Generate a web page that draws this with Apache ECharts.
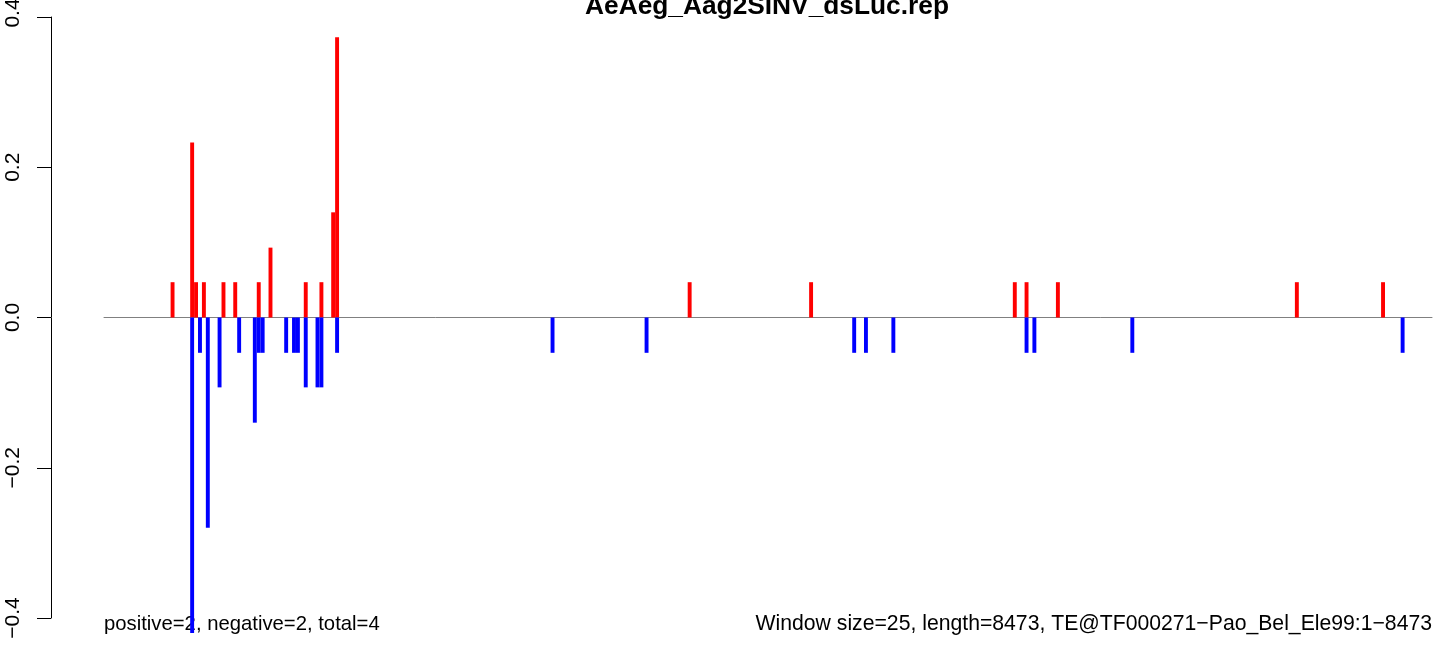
<!DOCTYPE html>
<html>
<head>
<meta charset="utf-8">
<script src="https://cdn.jsdelivr.net/npm/echarts@6/dist/echarts.min.js"></script>
<style>
html,body{margin:0;padding:0;background:#fff;}
#chart{width:1444px;height:646px;}
</style>
</head>
<body>
<div id="chart"></div>
<script>
// ---- data ----
const titleText = "AeAeg_Aag2SINV_dsLuc.rep";
const windowCount = 339; // 8473 / 25 windows
const posIndex = [17, 22, 23, 25, 30, 33, 39, 42, 51, 55, 58, 59, 149, 180, 232, 235, 243, 304, 326];
const posValue = [0.047, 0.233, 0.047, 0.047, 0.047, 0.047, 0.047, 0.093, 0.047, 0.047, 0.140, 0.373, 0.047, 0.047, 0.047, 0.047, 0.047, 0.047, 0.047];
const negIndex = [22, 24, 26, 29, 34, 38, 39, 40, 46, 48, 49, 51, 54, 55, 59, 114, 138, 191, 194, 201, 235, 237, 262, 331];
const negValue = [-0.420, -0.047, -0.280, -0.093, -0.047, -0.140, -0.047, -0.047, -0.047, -0.047, -0.047, -0.093, -0.093, -0.093, -0.047, -0.047, -0.047, -0.047, -0.047, -0.047, -0.047, -0.047, -0.047, -0.047];
const yTicks = [-0.4, -0.2, 0.0, 0.2, 0.4];
const leftNote = "positive=2, negative=2, total=4";
const rightNote = "Window size=25, length=8473, TE@TF000271\u2212Pao_Bel_Ele99:1\u22128473";

// ---- build library inputs ----
const categories = [];
for (let i = 0; i < windowCount; i++) categories.push(String(i));
const posData = categories.map(() => '-');
posIndex.forEach((k, j) => { posData[k] = posValue[j]; });
const negData = categories.map(() => '-');
negIndex.forEach((k, j) => { negData[k] = negValue[j]; });

const FONT = '"Liberation Sans", Arial, Helvetica, sans-serif';
const yMax = yTicks[yTicks.length - 1];
const chart = echarts.init(document.getElementById('chart'), null, {renderer: 'canvas'});
chart.setOption({
  animation: false,
  backgroundColor: '#ffffff',
  title: {
    text: titleText,
    left: 767,
    textAlign: 'center',
    top: -6,
    padding: 0,
    textStyle: {fontFamily: FONT, fontSize: 26.3, fontWeight: 'bold', color: '#000'}
  },
  grid: {left: 104, right: 12, top: 17, bottom: 28, containLabel: false, outerBoundsMode: 'none'},
  xAxis: {
    type: 'category',
    data: categories,
    boundaryGap: true,
    axisLine: {show: true, onZero: true, lineStyle: {color: '#808080', width: 1}},
    axisTick: {show: false},
    axisLabel: {show: false},
    splitLine: {show: false}
  },
  yAxis: {
    type: 'value',
    min: yTicks[0],
    max: yMax,
    interval: 0.2,
    offset: 53,
    axisLine: {show: true, lineStyle: {color: '#000', width: 1}},
    axisTick: {show: true, length: 14, lineStyle: {color: '#000', width: 1}},
    splitLine: {show: false},
    axisLabel: {
      rotate: 90,
      margin: 27,
      fontFamily: FONT,
      fontSize: 21,
      color: '#000',
      formatter: v => {
        const s = (v < 0 ? '\u2212' : '') + Math.abs(v).toFixed(1);
        return Math.abs(v - yMax) < 1e-9 ? '{top|' + s + '}' : s;
      },
      rich: {
        top: {fontFamily: FONT, fontSize: 21, color: '#000', padding: [0, 0, 0, 8]}
      }
    }
  },
  series: [
    {
      type: 'bar', name: 'positive', data: posData,
      barCategoryGap: '0%', barGap: '-100%', clip: false,
      itemStyle: {color: '#ff0000'}, z: 2
    },
    {
      type: 'bar', name: 'negative', data: negData,
      barCategoryGap: '0%', barGap: '-100%', clip: false,
      itemStyle: {color: '#0000ff'}, z: 2
    }
  ],
  graphic: [
    {type: 'text', left: 104, top: 614,
     style: {text: leftNote, font: '20.3px ' + FONT, fill: '#000'}},
    {type: 'text', right: 12, top: 614,
     style: {text: rightNote, font: '21.2px ' + FONT, fill: '#000'}}
  ]
});
</script>
</body>
</html>
